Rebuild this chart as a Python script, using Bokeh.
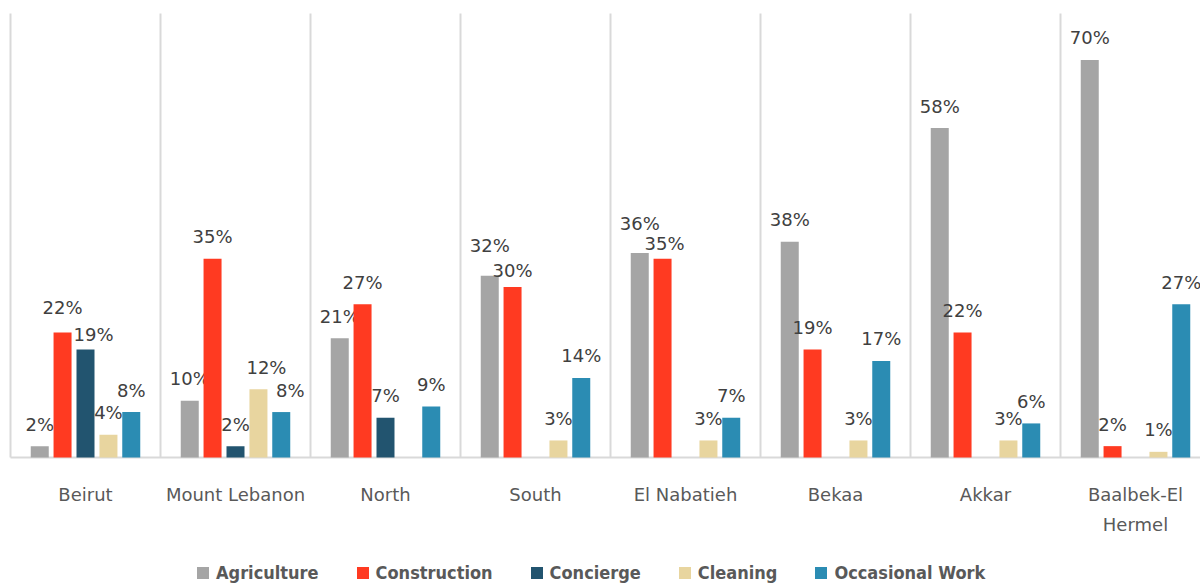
from bokeh.plotting import figure
from bokeh.models import ColumnDataSource, Range1d, Legend, LegendItem
from bokeh.core.properties import value
from bokeh.embed import file_html
from bokeh.resources import INLINE

regions = ["Beirut", "Mount Lebanon", "North", "South", "El Nabatieh", "Bekaa", "Akkar", "Baalbek-El\nHermel"]
series = ["Agriculture", "Construction", "Concierge", "Cleaning", "Occasional Work"]
agriculture = [2, 10, 21, 32, 36, 38, 58, 70]
construction = [22, 35, 27, 30, 35, 19, 22, 2]
concierge = [19, 2, 7, 0, 0, 0, 0, 0]
cleaning = [4, 12, 0, 3, 3, 3, 3, 1]
occasional = [8, 8, 9, 14, 7, 17, 6, 27]

colors = ["#A5A5A5", "#FF3A21", "#22546F", "#E8D59F", "#2B8CB3"]
offsets = [-0.305, -0.153, 0.0, 0.153, 0.305]
BAR_W = 0.12
PX = 5.68  # pixels per percent

# label nudges (pixels) to mimic the reference's collision-avoided label placement
nudge = {(0, 1): (0, -3), (0, 2): (8, 7), (1, 3): (8, 0), (1, 4): (9, 0),
         (3, 0): (0, -8), (3, 1): (0, 5), (4, 0): (0, -8), (4, 1): (2, 7)}

W, H = 1200, 583
base_px = 457
x0 = -10 / 150
p = figure(width=W, height=H, output_backend="svg", toolbar_location=None,
           x_range=Range1d(x0, x0 + W / 150),
           y_range=Range1d(-(H - base_px) / PX, base_px / PX),
           min_border_left=0, min_border_right=0, min_border_top=0, min_border_bottom=0,
           x_axis_location=None, y_axis_location=None)
p.grid.visible = False
p.outline_line_color = None
p.background_fill_color = "white"

n = len(regions)
top_val = (base_px - 13) / PX
# category separators and baseline
p.segment(x0=list(range(n + 1)), y0=[0] * (n + 1), x1=list(range(n + 1)), y1=[top_val] * (n + 1),
          line_color="#D9D9D9", line_width=2)
p.segment(x0=[0], y0=[0], x1=[n + 1], y1=[0], line_color="#D9D9D9", line_width=2)

data = [agriculture, construction, concierge, cleaning, occasional]
items = []
for si, (s, vals, c, off) in enumerate(zip(series, data, colors, offsets)):
    xs = [i + 0.5 + off for i in range(n)]
    src = ColumnDataSource(dict(x=xs, top=vals))
    r = p.vbar(x="x", top="top", bottom=0, width=BAR_W, source=src, fill_color=c, line_color=None)
    items.append(LegendItem(label=s, renderers=[r]))
    lx, ly, lt, dx, dy = [], [], [], [], []
    for i, (x, v) in enumerate(zip(xs, vals)):
        if v > 0:
            a, b = nudge.get((i, si), (0, 0))
            lx.append(x); ly.append(v); lt.append(f"{v}%")
            dx.append(a); dy.append(-22 + b)
    lsrc = ColumnDataSource(dict(x=lx, y=ly, t=lt, dx=dx, dy=dy))
    p.text(x="x", y="y", text="t", x_offset="dx", y_offset="dy", source=lsrc,
           text_align="center", text_baseline="alphabetic",
           text_font=value("DejaVu Sans"), text_font_size="18px", text_color="#404040")

# category labels
p.text(x=[i + 0.5 for i in range(n)], y=[0] * n, text=regions, text_align="center",
       text_baseline="top", y_offset=26, text_line_height=1.45,
       text_font=value("DejaVu Sans"), text_font_size="18px", text_color="#595959")

legend = Legend(items=items, orientation="horizontal", location=(195, 0),
                glyph_width=15, glyph_height=15, label_standoff=6, spacing=36,
                label_height=22, padding=0, margin=0, border_line_color=None,
                background_fill_alpha=0,
                label_text_font="'DejaVu Sans Condensed', 'DejaVu Sans'",
                label_text_font_style="bold",
                label_text_font_size="18px", label_text_color="#595959")
p.add_layout(legend)

open("out.html", "w").write(file_html(p, INLINE))
